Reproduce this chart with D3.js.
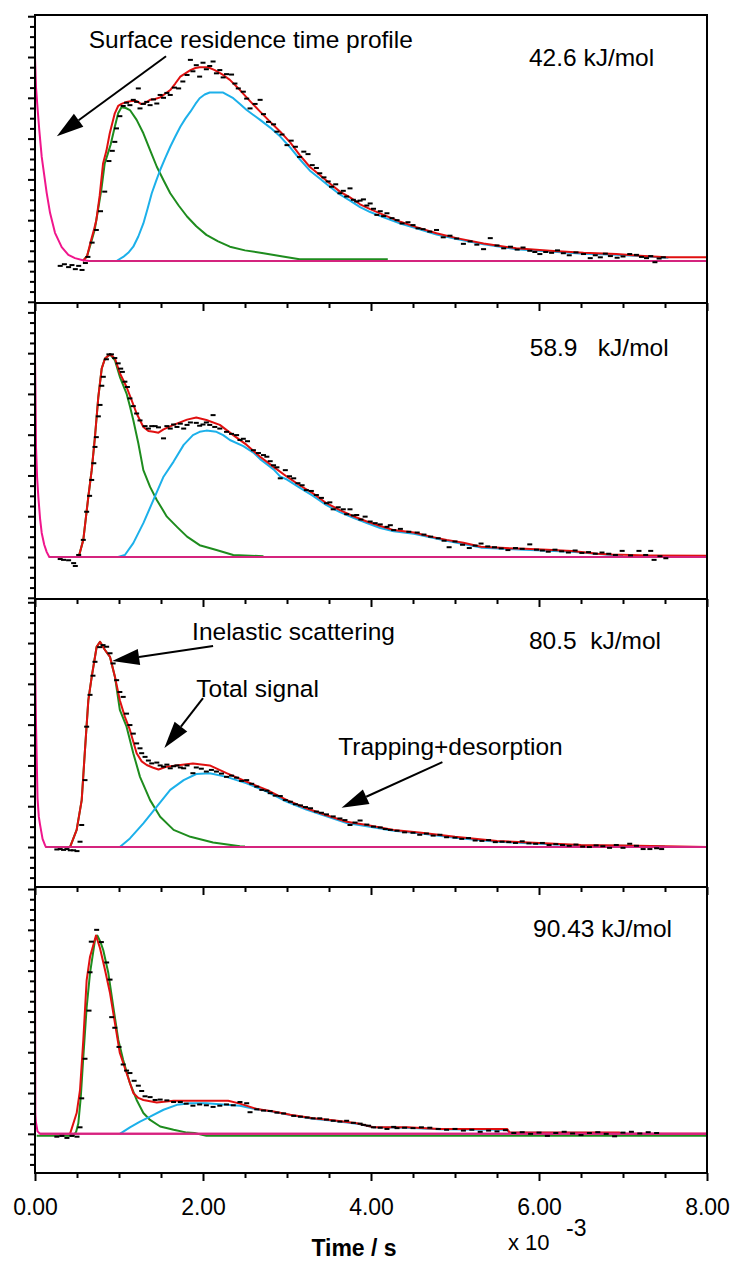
<!DOCTYPE html>
<html><head><meta charset="utf-8">
<script src="https://cdn.jsdelivr.net/npm/d3@7"></script>
<style>
body{margin:0;background:#fff}
text{font-family:"Liberation Sans",Arial,Helvetica,sans-serif;fill:#000}
</style>
</head><body>
<svg id="chart" width="733" height="1267"></svg>
<script>
// ---------- DATA (time in 10^-3 s, signal in arbitrary units) ----------
const timeTicks = [0, 2, 4, 6, 8];
const timeTickLabels = ["0.00", "2.00", "4.00", "6.00", "8.00"];
const energyLabels = ["42.6 kJ/mol", "58.9   kJ/mol", "80.5  kJ/mol", "90.43 kJ/mol"];
const energyLabelPos = [[5.88, 4.78], [5.89, 4.93], [5.88, 4.85], [5.93, 4.83]];
const yDomains = [[-1.03, 6.03], [-1.03, 6.23], [-0.98, 6.08], [-0.96, 6.05]];

// Panel 1 : 42.6 kJ/mol
const p1Pink = [[0,5.0],[0.012,4.26],[0.032,3.70],[0.051,3.21],[0.08,2.55],[0.139,1.67],[0.179,1.18],[0.238,0.69],[0.318,0.34],[0.397,0.15],[0.476,0.07],[0.57,0.02],[0.65,0],[8.0,0]];
const p1Green = [[0.57,0],[0.62,0.12],[0.66,0.40],[0.71,0.76],[0.75,1.25],[0.79,1.75],[0.83,2.39],[0.87,2.65],[0.9,2.85],[0.95,3.29],[0.99,3.62],[1.03,3.77],[1.08,3.75],[1.13,3.70],[1.21,3.46],[1.29,3.13],[1.37,2.72],[1.45,2.31],[1.53,1.98],[1.61,1.66],[1.71,1.36],[1.81,1.09],[1.92,0.85],[2.04,0.64],[2.18,0.48],[2.32,0.35],[2.5,0.26],[2.72,0.19],[2.95,0.11],[3.15,0.04],[4.2,0.04]];
const p1Cyan = [[0.97,0],[1.05,0.1],[1.11,0.2],[1.17,0.35],[1.23,0.6],[1.29,0.92],[1.34,1.28],[1.39,1.66],[1.44,1.95],[1.49,2.23],[1.55,2.52],[1.61,2.80],[1.67,3.05],[1.73,3.29],[1.79,3.49],[1.85,3.66],[1.91,3.85],[1.96,3.99],[2.02,4.08],[2.08,4.13],[2.24,4.13],[2.30,4.06],[2.36,3.99],[2.44,3.85],[2.52,3.70],[2.60,3.58],[2.68,3.46],[2.80,3.27],[2.92,3.05],[3.04,2.78],[3.15,2.50],[3.27,2.22],[3.39,2.02],[3.51,1.82],[3.63,1.63],[3.75,1.48],[3.87,1.32],[3.99,1.20],[4.15,1.07],[4.35,0.92],[4.54,0.80],[4.78,0.65],[5.02,0.54],[5.34,0.41],[5.73,0.29],[6.13,0.23],[6.53,0.18],[6.92,0.15],[7.54,0.08]];
const p1Red = [[0.57,0],[0.62,0.12],[0.66,0.45],[0.70,0.75],[0.73,1.0],[0.77,1.6],[0.81,2.39],[0.85,2.7],[0.89,3.13],[0.95,3.62],[0.99,3.80],[1.03,3.85],[1.09,3.90],[1.15,3.92],[1.21,3.92],[1.26,3.85],[1.31,3.87],[1.37,3.95],[1.43,3.97],[1.49,4.01],[1.55,4.10],[1.61,4.19],[1.67,4.35],[1.73,4.52],[1.79,4.60],[1.85,4.68],[1.91,4.73],[1.96,4.75],[2.06,4.75],[2.14,4.68],[2.24,4.56],[2.32,4.44],[2.44,4.19],[2.56,3.92],[2.68,3.66],[2.80,3.41],[2.92,3.17],[3.04,2.90],[3.15,2.60],[3.27,2.31],[3.39,2.11],[3.51,1.90],[3.63,1.70],[3.75,1.56],[3.87,1.39],[3.99,1.27],[4.15,1.13],[4.35,0.96],[4.54,0.83],[4.78,0.68],[5.02,0.56],[5.34,0.43],[5.73,0.31],[6.13,0.25],[6.53,0.20],[6.92,0.17],[7.2,0.13],[7.52,0.09],[8.0,0.09]];
const p1Data = [[0.30,-0.12],[0.35,-0.08],[0.40,-0.15],[0.44,-0.10],[0.48,-0.20],[0.52,-0.12],[0.56,-0.22],[0.60,-0.05],[0.63,0.10],[0.68,0.45],[0.73,0.76],[0.78,1.22],[0.83,1.70],[0.88,2.45],[0.92,2.70],[0.95,2.92],[0.97,3.25],[1.01,3.55],[1.05,3.80],[1.09,3.88],[1.13,3.82],[1.17,3.95],[1.21,3.90],[1.23,4.23],[1.25,3.74],[1.29,3.85],[1.33,3.90],[1.37,3.82],[1.41,3.96],[1.45,3.86],[1.49,4.07],[1.53,4.00],[1.57,4.12],[1.61,4.07],[1.66,4.25],[1.71,4.23],[1.76,4.40],[1.81,4.56],[1.85,4.93],[1.88,4.65],[1.92,4.80],[1.96,4.52],[2.00,4.86],[2.04,4.70],[2.08,4.78],[2.12,4.89],[2.16,4.60],[2.20,4.68],[2.24,4.50],[2.28,4.58],[2.34,4.57],[2.38,4.35],[2.42,4.23],[2.48,4.15],[2.52,3.98],[2.56,3.74],[2.62,3.85],[2.68,3.95],[2.72,3.60],[2.78,3.41],[2.84,3.35],[2.88,3.17],[2.94,3.10],[3.00,2.84],[3.05,2.95],[3.10,2.80],[3.15,2.55],[3.20,2.68],[3.25,2.62],[3.30,2.35],[3.35,2.28],[3.39,2.15],[3.44,2.05],[3.49,1.95],[3.53,1.82],[3.58,1.88],[3.63,1.66],[3.67,1.72],[3.71,1.58],[3.75,1.78],[3.79,1.50],[3.83,1.46],[3.87,1.48],[3.91,1.51],[3.95,1.36],[3.99,1.41],[4.03,1.28],[4.07,1.13],[4.11,1.22],[4.15,1.10],[4.19,1.17],[4.25,1.05],[4.31,1.00],[4.37,0.92],[4.44,0.95],[4.50,0.88],[4.56,0.80],[4.62,0.78],[4.70,0.72],[4.78,0.76],[4.86,0.58],[4.94,0.62],[5.02,0.55],[5.10,0.42],[5.18,0.48],[5.26,0.40],[5.34,0.29],[5.42,0.56],[5.50,0.38],[5.58,0.31],[5.66,0.35],[5.74,0.28],[5.81,0.33],[5.89,0.25],[5.95,0.22],[6.01,0.17],[6.08,0.22],[6.15,0.20],[6.22,0.26],[6.29,0.19],[6.36,0.14],[6.44,0.21],[6.53,0.17],[6.61,0.07],[6.67,0.14],[6.73,0.09],[6.79,0.18],[6.85,0.12],[6.93,0.08],[7.00,0.11],[7.08,0.17],[7.16,0.15],[7.22,0.10],[7.28,0.07],[7.33,0.12],[7.38,-0.03],[7.43,0.06],[7.48,0.09]];

// Panel 2 : 58.9 kJ/mol
const p2Pink = [[0,5.0],[0.006,4.0],[0.012,2.7],[0.025,1.95],[0.04,1.47],[0.06,0.95],[0.08,0.59],[0.11,0.3],[0.14,0.12],[0.17,0],[8.0,0]];
const p2Green = [[0.52,0],[0.575,0.42],[0.635,1.48],[0.675,2.13],[0.714,2.95],[0.754,3.93],[0.794,4.62],[0.833,4.87],[0.893,4.97],[0.952,4.82],[1.01,4.42],[1.09,4.01],[1.13,3.70],[1.17,3.36],[1.23,2.79],[1.29,2.13],[1.37,1.72],[1.45,1.40],[1.57,0.99],[1.69,0.74],[1.81,0.50],[1.96,0.29],[2.16,0.17],[2.36,0.05],[2.72,0.02]];
const p2Cyan = [[0.99,0],[1.07,0.05],[1.17,0.34],[1.29,0.83],[1.41,1.40],[1.53,1.97],[1.65,2.34],[1.77,2.75],[1.88,2.99],[1.96,3.07],[2.04,3.10],[2.16,3.07],[2.24,2.99],[2.32,2.87],[2.48,2.72],[2.60,2.56],[2.68,2.40],[2.84,2.15],[2.92,1.97],[3.0,1.90],[3.15,1.70],[3.31,1.50],[3.47,1.27],[3.63,1.10],[3.79,0.96],[3.95,0.83],[4.11,0.71],[4.27,0.63],[4.51,0.57],[4.90,0.40],[5.31,0.23],[5.83,0.18],[6.39,0.13],[6.87,0.05],[7.0,0.03]];
const p2Red = [[0.52,0],[0.575,0.42],[0.635,1.48],[0.675,2.13],[0.714,2.95],[0.754,3.93],[0.794,4.62],[0.833,4.87],[0.893,4.97],[0.952,4.87],[1.012,4.50],[1.09,4.17],[1.15,3.85],[1.21,3.52],[1.29,3.19],[1.35,3.09],[1.41,3.07],[1.47,3.05],[1.53,3.13],[1.65,3.24],[1.81,3.37],[1.92,3.42],[2.04,3.36],[2.20,3.24],[2.36,2.99],[2.52,2.75],[2.68,2.46],[2.84,2.21],[3.0,1.97],[3.15,1.76],[3.31,1.56],[3.47,1.32],[3.63,1.15],[3.79,1.0],[3.95,0.87],[4.11,0.76],[4.27,0.66],[4.51,0.6],[4.71,0.5],[4.90,0.42],[5.10,0.35],[5.31,0.25],[5.6,0.22],[5.83,0.20],[6.1,0.18],[6.39,0.15],[6.7,0.08],[6.87,0.06],[7.3,0.04],[8.0,0.03]];
const p2Data = [[0.30,-0.05],[0.34,-0.07],[0.40,-0.08],[0.46,-0.15],[0.48,-0.22],[0.52,0.05],[0.575,0.42],[0.615,1.11],[0.65,1.50],[0.675,1.89],[0.70,2.30],[0.714,2.70],[0.73,2.94],[0.754,3.45],[0.774,3.73],[0.795,4.20],[0.813,4.42],[0.85,4.85],[0.88,4.97],[0.91,4.97],[0.95,4.88],[0.99,4.75],[1.02,4.62],[1.04,4.54],[1.07,4.30],[1.10,4.17],[1.13,3.89],[1.17,3.70],[1.21,3.52],[1.25,3.35],[1.31,3.21],[1.35,3.15],[1.39,3.21],[1.43,3.21],[1.47,3.18],[1.53,2.91],[1.57,3.21],[1.61,3.15],[1.65,3.25],[1.69,3.19],[1.73,3.27],[1.77,3.15],[1.81,3.24],[1.85,3.30],[1.92,3.29],[1.96,3.22],[2.0,3.25],[2.04,3.30],[2.08,3.24],[2.12,3.48],[2.14,3.19],[2.20,3.15],[2.28,3.07],[2.34,3.02],[2.40,2.99],[2.44,2.87],[2.48,2.90],[2.53,2.84],[2.60,2.62],[2.66,2.55],[2.72,2.50],[2.76,2.46],[2.80,2.35],[2.84,2.25],[2.88,2.20],[2.92,1.93],[2.98,2.13],[3.03,1.98],[3.08,1.93],[3.13,1.81],[3.18,1.76],[3.23,1.64],[3.29,1.62],[3.35,1.52],[3.41,1.45],[3.47,1.32],[3.51,1.34],[3.55,1.17],[3.61,1.22],[3.67,1.17],[3.71,1.05],[3.75,1.17],[3.79,1.02],[3.83,1.03],[3.88,0.92],[3.93,0.99],[3.99,0.87],[4.05,0.83],[4.11,0.80],[4.19,0.74],[4.23,0.78],[4.27,0.66],[4.35,0.69],[4.45,0.62],[4.55,0.60],[4.63,0.55],[4.71,0.50],[4.80,0.46],[4.87,0.40],[4.93,0.24],[5.00,0.38],[5.09,0.30],[5.17,0.22],[5.24,0.28],[5.31,0.33],[5.39,0.26],[5.47,0.24],[5.55,0.21],[5.63,0.17],[5.72,0.22],[5.80,0.20],[5.89,0.31],[5.97,0.18],[6.04,0.16],[6.11,0.13],[6.19,0.18],[6.27,0.14],[6.35,0.11],[6.43,0.16],[6.51,0.10],[6.59,0.12],[6.67,0.08],[6.75,0.11],[6.83,0.08],[6.91,0.05],[6.99,0.15],[7.09,0.04],[7.19,0.15],[7.27,0.05],[7.33,0.15],[7.37,-0.07],[7.44,0.02],[7.51,-0.03]];

// Panel 3 : 80.5 kJ/mol
const p3Pink = [[0,5.0],[0.005,4.0],[0.012,3.0],[0.02,2.2],[0.03,1.2],[0.045,0.75],[0.06,0.55],[0.09,0.2],[0.12,0.04],[0.13,0],[8.0,0]];
const p3Green = [[0.417,0],[0.496,0.42],[0.556,1.15],[0.595,2.38],[0.635,3.60],[0.675,4.17],[0.734,4.91],[0.774,5.03],[0.833,4.83],[0.893,4.66],[0.952,4.17],[1.01,3.36],[1.09,2.95],[1.17,2.30],[1.25,1.72],[1.37,1.15],[1.49,0.74],[1.65,0.42],[1.85,0.25],[2.12,0.11],[2.44,0.02],[2.5,0.01]];
const p3Cyan = [[1.01,0],[1.13,0.21],[1.29,0.58],[1.45,0.99],[1.61,1.40],[1.77,1.64],[1.92,1.79],[2.08,1.81],[2.28,1.72],[2.52,1.56],[2.76,1.36],[3.0,1.11],[3.23,0.92],[3.47,0.75],[3.71,0.59],[3.95,0.51],[4.27,0.40],[4.6,0.33],[5.0,0.23],[5.5,0.13],[6.0,0.08],[6.5,0.04],[7.0,0.03],[7.5,0.01]];
const p3Red = [[0.417,0],[0.496,0.42],[0.556,1.15],[0.595,2.38],[0.635,3.60],[0.675,4.17],[0.734,4.91],[0.774,5.03],[0.833,4.83],[0.893,4.66],[0.952,4.17],[1.01,3.60],[1.07,3.19],[1.13,2.87],[1.21,2.30],[1.27,2.10],[1.33,2.01],[1.40,1.95],[1.47,1.90],[1.57,1.97],[1.73,2.01],[1.88,2.05],[2.08,2.0],[2.28,1.81],[2.52,1.60],[2.76,1.40],[3.0,1.15],[3.23,0.95],[3.47,0.78],[3.71,0.62],[3.95,0.54],[4.27,0.42],[4.6,0.35],[5.0,0.25],[5.5,0.15],[6.0,0.10],[6.5,0.05],[7.0,0.04],[7.5,0.02],[8.0,0.0]];
const p3Data = [[0.26,-0.06],[0.30,-0.05],[0.34,-0.07],[0.38,-0.05],[0.42,-0.08],[0.46,-0.08],[0.50,-0.10],[0.536,0.13],[0.556,0.54],[0.595,1.64],[0.615,2.95],[0.655,3.73],[0.69,4.20],[0.714,4.54],[0.77,4.90],[0.81,4.95],[0.853,4.91],[0.893,4.75],[0.93,4.50],[0.972,4.09],[1.01,3.80],[1.05,3.68],[1.09,3.27],[1.13,2.99],[1.17,2.78],[1.21,2.54],[1.25,2.42],[1.27,2.30],[1.31,2.21],[1.35,2.12],[1.39,2.05],[1.45,2.07],[1.49,2.00],[1.53,1.97],[1.57,2.02],[1.61,1.93],[1.65,1.98],[1.69,2.00],[1.73,1.95],[1.77,1.93],[1.81,2.00],[1.88,1.81],[1.92,1.95],[1.98,1.92],[2.04,1.85],[2.10,1.89],[2.16,1.85],[2.22,1.80],[2.28,1.72],[2.34,1.75],[2.40,1.70],[2.46,1.62],[2.52,1.64],[2.58,1.55],[2.64,1.48],[2.70,1.40],[2.76,1.38],[2.80,1.32],[2.86,1.26],[2.92,1.25],[2.98,1.15],[3.04,1.11],[3.10,1.05],[3.16,1.02],[3.22,0.98],[3.28,0.95],[3.35,0.87],[3.41,0.84],[3.47,0.80],[3.55,0.75],[3.63,0.70],[3.69,0.66],[3.75,0.54],[3.81,0.60],[3.87,0.65],[3.95,0.55],[4.03,0.50],[4.11,0.48],[4.17,0.44],[4.23,0.42],[4.31,0.40],[4.40,0.36],[4.50,0.35],[4.58,0.30],[4.66,0.33],[4.74,0.28],[4.82,0.30],[4.90,0.24],[5.00,0.23],[5.08,0.20],[5.16,0.22],[5.24,0.16],[5.32,0.15],[5.40,0.17],[5.48,0.12],[5.56,0.13],[5.64,0.12],[5.72,0.10],[5.80,0.14],[5.88,0.09],[5.96,0.08],[6.04,0.10],[6.12,0.05],[6.20,0.07],[6.28,0.05],[6.36,0.03],[6.44,0.06],[6.52,0.01],[6.60,0.00],[6.68,0.04],[6.76,0.02],[6.84,-0.02],[6.92,0.05],[7.00,-0.02],[7.08,0.08],[7.16,0.03],[7.24,-0.05],[7.32,-0.05],[7.40,-0.03],[7.46,-0.05]];

// Panel 4 : 90.43 kJ/mol
const p4Pink = [[0,5.0],[0.004,0.5],[0.01,0.3],[0.03,0.06],[0.06,0],[8.0,0]];
const p4Green = [[0.02,-0.05],[0.456,-0.05],[0.49,0.05],[0.516,0.26],[0.545,0.9],[0.575,1.88],[0.615,3.10],[0.655,3.94],[0.714,4.75],[0.742,4.86],[0.78,4.70],[0.813,4.50],[0.873,3.94],[0.933,3.10],[0.992,2.30],[1.05,1.81],[1.13,1.24],[1.21,0.83],[1.29,0.51],[1.37,0.34],[1.49,0.18],[1.65,0.10],[1.81,0.03],[1.9,0.02],[2.04,-0.05],[8.0,-0.05]];
const p4Cyan = [[1.01,0],[1.13,0.16],[1.25,0.30],[1.37,0.42],[1.53,0.59],[1.69,0.71],[1.85,0.75],[2.04,0.75],[2.28,0.71],[2.44,0.69],[2.64,0.60],[2.84,0.54],[3.04,0.46],[3.31,0.37],[3.55,0.32],[3.83,0.25],[4.03,0.16],[4.43,0.15],[4.82,0.11],[5.62,0.10],[5.65,0.03],[6.96,0.02],[7.0,0.0]];
const p4Red = [[0.417,0],[0.496,0.51],[0.536,1.08],[0.575,2.30],[0.615,3.77],[0.655,4.34],[0.726,4.86],[0.774,4.55],[0.833,4.02],[0.893,3.45],[0.952,2.71],[1.01,1.98],[1.09,1.49],[1.17,1.0],[1.23,0.88],[1.29,0.83],[1.45,0.77],[1.65,0.81],[1.96,0.81],[2.30,0.81],[2.44,0.74],[2.64,0.61],[2.84,0.55],[3.04,0.47],[3.31,0.38],[3.55,0.33],[3.83,0.26],[4.03,0.16],[4.43,0.16],[4.82,0.12],[5.62,0.12],[5.65,0.03],[6.96,0.03],[7.0,0.0],[8.0,0.0]];
const p4Data = [[0.26,-0.07],[0.32,-0.05],[0.38,-0.10],[0.44,-0.05],[0.50,-0.07],[0.536,0.16],[0.556,0.87],[0.595,1.84],[0.643,3.02],[0.655,3.96],[0.67,4.71],[0.734,5.0],[0.79,4.70],[0.853,4.20],[0.893,3.78],[0.913,2.86],[0.95,2.60],[1.0,2.13],[1.05,1.70],[1.09,1.55],[1.13,1.49],[1.18,1.30],[1.23,1.18],[1.27,1.05],[1.31,0.92],[1.37,0.90],[1.43,0.83],[1.49,0.84],[1.57,0.82],[1.65,0.78],[1.73,0.78],[1.80,0.74],[1.88,0.69],[1.96,0.72],[2.04,0.70],[2.12,0.66],[2.20,0.69],[2.28,0.72],[2.36,0.70],[2.44,0.78],[2.52,0.75],[2.56,0.53],[2.64,0.60],[2.72,0.57],[2.80,0.56],[2.88,0.52],[2.96,0.50],[3.08,0.44],[3.16,0.42],[3.24,0.40],[3.31,0.38],[3.39,0.38],[3.47,0.35],[3.55,0.32],[3.63,0.30],[3.71,0.32],[3.79,0.27],[3.87,0.25],[3.91,0.22],[3.97,0.20],[4.03,0.16],[4.11,0.15],[4.19,0.12],[4.27,0.17],[4.31,0.14],[4.40,0.15],[4.50,0.14],[4.60,0.16],[4.70,0.15],[4.80,0.12],[4.90,0.10],[5.00,0.12],[5.10,0.08],[5.20,0.10],[5.30,0.05],[5.40,0.08],[5.50,0.06],[5.60,0.09],[5.70,0.02],[5.80,0.04],[5.90,0.00],[6.00,0.03],[6.10,-0.05],[6.20,0.02],[6.30,0.05],[6.40,0.01],[6.50,-0.03],[6.60,0.02],[6.70,0.04],[6.80,0.00],[6.90,-0.06],[7.00,0.03],[7.10,0.05],[7.20,0.01],[7.30,0.04],[7.40,0.02]];

// Annotations (data coordinates of the panel they belong to)
const noteTexts = [
  {panel:0, t:0.64, v:5.22, text:"Surface residence time profile"},
  {panel:2, t:1.87, v:5.07, text:"Inelastic scattering"},
  {panel:2, t:1.92, v:3.68, text:"Total signal"},
  {panel:2, t:3.61, v:2.25, text:"Trapping+desorption"}
];
const noteArrows = [
  {panel:0, from:[1.56,5.02], to:[0.26,3.06]},
  {panel:2, from:[2.12,4.93], to:[0.92,4.56]},
  {panel:2, from:[2.00,3.65], to:[1.54,2.43]},
  {panel:2, from:[4.85,2.08], to:[3.65,0.96]}
];

// ---------- LAYOUT ----------
const W = 733, H = 1267;
const L = 35, R = 707;
const panelTop = [15, 303, 599, 887];
const panelBottom = [303, 599, 887, 1173];
const colors = {pink:"#f0168c", green:"#1e8c1e", cyan:"#1cb0ea", red:"#e01010", zero:"#d4247e"};
const fontSize = 24.5;

const panelsData = [
  {pink:p1Pink, green:p1Green, cyan:p1Cyan, red:p1Red, data:p1Data},
  {pink:p2Pink, green:p2Green, cyan:p2Cyan, red:p2Red, data:p2Data},
  {pink:p3Pink, green:p3Green, cyan:p3Cyan, red:p3Red, data:p3Data},
  {pink:p4Pink, green:p4Green, cyan:p4Cyan, red:p4Red, data:p4Data}
];

const svg = d3.select("#chart");
svg.append("rect").attr("width", W).attr("height", H).attr("fill", "#fff");
const x = d3.scaleLinear().domain([0, 8]).range([L, R]);
const yScales = [];

panelsData.forEach((pd, i) => {
  const y = d3.scaleLinear().domain(yDomains[i]).range([panelBottom[i], panelTop[i]]);
  yScales.push(y);
  const g = svg.append("g");
  const clipId = "clip" + i;
  svg.append("clipPath").attr("id", clipId).append("rect")
    .attr("x", L).attr("y", panelTop[i]).attr("width", R - L).attr("height", panelBottom[i] - panelTop[i]);
  const plot = g.append("g").attr("clip-path", `url(#${clipId})`);
  const line = d3.line().x(d => x(d[0])).y(d => y(d[1]));
  [["green", pd.green], ["cyan", pd.cyan], ["red", pd.red], ["pink", pd.pink]].forEach(([k, arr]) => {
    plot.append("path").datum(arr).attr("d", line).attr("fill", "none")
      .attr("stroke", colors[k]).attr("stroke-width", 2).attr("stroke-linejoin", "round");
  });
  // zero baseline (pink profile at rest) drawn slightly darker
  plot.append("line").attr("x1", x(pd.pink[pd.pink.length - 2][0])).attr("x2", x(8))
    .attr("y1", y(0)).attr("y2", y(0)).attr("stroke", colors.zero).attr("stroke-width", 2);
  plot.selectAll("rect.pt").data(pd.data).enter().append("rect").attr("class", "pt")
    .attr("x", d => x(d[0]) - 2.5).attr("y", d => y(d[1]) - 1)
    .attr("width", 5).attr("height", 2).attr("fill", "#000");

  // frame
  g.append("rect").attr("x", L).attr("y", panelTop[i]).attr("width", R - L)
    .attr("height", panelBottom[i] - panelTop[i]).attr("fill", "none")
    .attr("stroke", "#000").attr("stroke-width", 2);

  // left axis: minor and major ticks
  const [y0, y1] = yDomains[i];
  const minor = d3.range(Math.ceil(y0 * 4) / 4, y1 + 1e-9, 0.25).filter(v => Math.abs(v - Math.round(v)) > 1e-6);
  const major = d3.range(Math.ceil(y0), y1 + 1e-9, 1);
  const la1 = g.append("g").attr("transform", `translate(${L},0)`)
    .call(d3.axisLeft(y).tickValues(minor).tickSize(5).tickFormat(""));
  const la2 = g.append("g").attr("transform", `translate(${L},0)`)
    .call(d3.axisLeft(y).tickValues(major).tickSize(7).tickFormat(""));
  [la1, la2].forEach(a => { a.select(".domain").remove(); a.selectAll("line").attr("stroke-width", 2); });

  // bottom axis ticks
  const bx1 = g.append("g").attr("transform", `translate(0,${panelBottom[i]})`)
    .call(d3.axisBottom(x).tickValues(d3.range(0.5, 8, 0.5).filter(v => v % 2 !== 0)).tickSize(5).tickFormat(""));
  const bx2 = g.append("g").attr("transform", `translate(0,${panelBottom[i]})`)
    .call(d3.axisBottom(x).tickValues(timeTicks).tickSize(8)
      .tickFormat((d, k) => i === 3 ? timeTickLabels[k] : ""));
  [bx1, bx2].forEach(a => { a.select(".domain").remove(); a.selectAll("line").attr("stroke-width", 2); });
  bx2.selectAll("text").attr("font-size", 23).attr("font-family", "Liberation Sans, Arial, sans-serif")
    .attr("fill", "#000").attr("y", 0).attr("dy", 0).attr("transform", "translate(0,42)");

  // energy label
  g.append("text").attr("x", x(energyLabelPos[i][0])).attr("y", y(energyLabelPos[i][1]))
    .attr("font-size", fontSize).style("white-space", "pre").attr("xml:space", "preserve")
    .text(energyLabels[i]);
});

// annotations
noteTexts.forEach(n => {
  svg.append("text").attr("x", x(n.t)).attr("y", yScales[n.panel](n.v))
    .attr("font-size", fontSize).text(n.text);
});
noteArrows.forEach(a => {
  const y = yScales[a.panel];
  const x1 = x(a.from[0]), y1 = y(a.from[1]), x2 = x(a.to[0]), y2 = y(a.to[1]);
  const dx = x2 - x1, dy = y2 - y1, len = Math.hypot(dx, dy);
  const ux = dx / len, uy = dy / len, hl = 27, hw = 8;
  const bx = x2 - ux * hl, by = y2 - uy * hl;
  svg.append("line").attr("x1", x1).attr("y1", y1).attr("x2", bx).attr("y2", by)
    .attr("stroke", "#000").attr("stroke-width", 2);
  svg.append("polygon").attr("fill", "#000")
    .attr("points", [[x2, y2], [bx - uy * hw, by + ux * hw], [bx + uy * hw, by - ux * hw]].map(p => p.join(",")).join(" "));
});

// axis title
svg.append("text").attr("x", 354).attr("y", 1256).attr("text-anchor", "middle")
  .attr("font-size", 23).attr("font-weight", "bold").text("Time / s");
svg.append("text").attr("x", 508).attr("y", 1250).attr("font-size", 22).text("x 10");
svg.append("text").attr("x", 566).attr("y", 1236).attr("font-size", 23).text("-3");
</script>
</body></html>
